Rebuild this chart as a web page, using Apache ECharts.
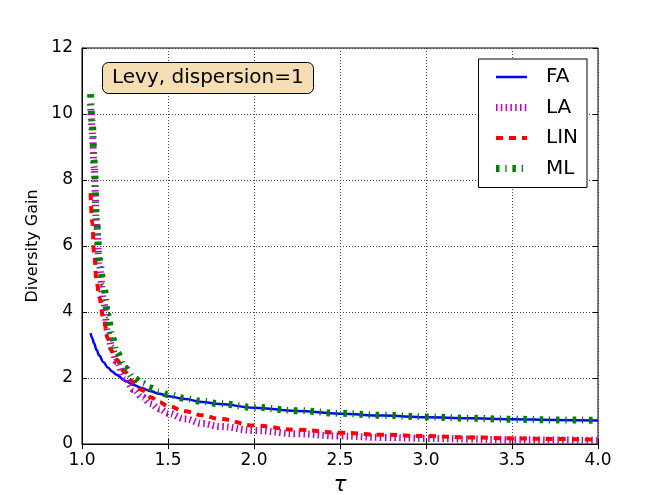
<!DOCTYPE html>
<html>
<head>
<meta charset="utf-8">
<script src="https://cdn.jsdelivr.net/npm/echarts@6/dist/echarts.min.js"></script>
<style>
    html, body { margin: 0; padding: 0; background: #fff; }
    #chart { width: 664px; height: 495px; }
</style>
</head>
<body>
<div id="chart"></div>
<script>
// tau samples and diversity gain
var tau = [1.05, 1.06, 1.07, 1.085, 1.1, 1.125, 1.15, 1.175, 1.2, 1.25, 1.3, 1.35, 1.4, 1.45, 1.5,
           1.6, 1.7, 1.8, 2.0, 2.25, 2.5, 2.75, 3.0, 3.25, 3.5, 3.75, 4.0];
var faGain  = [3.36, 3.2, 3.05, 2.85, 2.68, 2.48, 2.32, 2.2, 2.1, 1.92, 1.79, 1.69, 1.6, 1.52, 1.45,
               1.36, 1.27, 1.21, 1.1, 1.0, 0.92, 0.86, 0.81, 0.78, 0.75, 0.73, 0.71];
var laGain  = [10.3, 9.5, 8.4, 6.6, 5.4, 4.3, 3.4, 2.9, 2.5, 2.0, 1.65, 1.42, 1.22, 1.06, 0.93,
               0.76, 0.62, 0.53, 0.41, 0.31, 0.24, 0.2, 0.17, 0.15, 0.13, 0.12, 0.11];
var linGain = [7.6, 6.7, 5.8, 4.95, 4.45, 3.8, 3.2, 2.8, 2.55, 2.18, 1.88, 1.63, 1.42, 1.27, 1.15,
               0.99, 0.87, 0.76, 0.56, 0.43, 0.34, 0.28, 0.24, 0.2, 0.17, 0.15, 0.13];
var mlGain  = [10.6, 9.7, 8.6, 6.7, 5.6, 4.85, 3.9, 3.25, 2.8, 2.3, 2.0, 1.83, 1.7, 1.59, 1.5,
               1.38, 1.29, 1.22, 1.11, 1.01, 0.93, 0.87, 0.82, 0.78, 0.75, 0.73, 0.72];
var seriesNames = ['FA', 'LA', 'LIN', 'ML'];
var xTicks = [1.0, 1.5, 2.0, 2.5, 3.0, 3.5, 4.0];
var yTicks = [0, 2, 4, 6, 8, 10, 12];

function pairs(ys) {
    return tau.map(function (t, i) { return [t, ys[i]]; });
}

var font = 'DejaVu Sans';
var myChart = echarts.init(document.getElementById('chart'), null, { renderer: 'canvas' });

// line looks, shared by the plot and the legend
var styles = {
    FA:  { color: '#0000ff', width: 2.5, type: 'solid' },
    LA:  { color: '#bf00bf', width: 7, type: [1.5, 3.3], cap: 'butt' },
    LIN: { color: '#ff0000', width: 4, type: [7, 6], cap: 'butt' },
    ML:  { color: '#008000', width: 7, type: [3.5, 5.8, 1.3, 5.8], cap: 'butt' }
};

var tickOpts = { show: true, inside: true, length: 5, lineStyle: { color: '#000', width: 1 } };
var gridLine = { show: true, lineStyle: { color: '#444', width: 1, type: [1, 2] } };

var option = {
    animation: false,
    backgroundColor: '#fff',
    title: {
        text: 'Levy, dispersion=1',
        left: 102,
        top: 62,
        padding: [5, 10, 5, 10],
        backgroundColor: '#f5deb3',
        borderColor: '#000',
        borderWidth: 1,
        borderRadius: 6,
        textStyle: { fontFamily: font, fontSize: 20, fontWeight: 'normal', color: '#000', lineHeight: 22 }
    },
    legend: {
        data: seriesNames.map(function (n) {
            return { name: n, lineStyle: styles[n] };
        }),
        orient: 'vertical',
        right: 77,
        top: 59,
        padding: [8, 9, 9, 14],
        itemGap: 10.5,
        itemWidth: 31,
        itemHeight: 14,
        borderColor: '#000',
        borderWidth: 1,
        borderRadius: 0,
        backgroundColor: '#fff',
        itemStyle: { opacity: 0 },
        textStyle: { fontFamily: font, fontSize: 20, lineHeight: 20, color: '#000', padding: [0, 0, 0, 14] }
    },
    grid: {
        left: 82, right: 66, top: 48, bottom: 51,
        outerBoundsMode: 'none',
        show: true, borderColor: '#000', borderWidth: 1
    },
    xAxis: [{
        type: 'value',
        min: 1.0, max: 4.0, interval: 0.5,
        name: 'τ',
        nameLocation: 'middle',
        nameGap: 31,
        nameTextStyle: { fontFamily: font, fontSize: 21, fontStyle: 'italic', color: '#000' },
        axisLine: { show: true, lineStyle: { color: '#000', width: 1 } },
        axisTick: tickOpts,
        splitLine: gridLine,
        axisLabel: {
            fontFamily: font, fontSize: 17, color: '#000', margin: 8,
            formatter: function (v) { return xTicks.indexOf(v) >= 0 ? v.toFixed(1) : ''; }
        }
    }, {
        type: 'value', position: 'top',
        min: 1.0, max: 4.0, interval: 0.5,
        axisLine: { show: false },
        axisTick: tickOpts,
        splitLine: { show: false },
        axisLabel: { show: false }
    }],
    yAxis: [{
        type: 'value',
        min: 0, max: 12, interval: 2,
        name: 'Diversity Gain',
        nameLocation: 'middle',
        nameGap: 36,
        nameTextStyle: { fontFamily: font, fontSize: 16, color: '#000' },
        axisLine: { show: true, lineStyle: { color: '#000', width: 1 } },
        axisTick: tickOpts,
        splitLine: gridLine,
        axisLabel: {
            fontFamily: font, fontSize: 17, color: '#000', margin: 9,
            formatter: function (v) { return yTicks.indexOf(v) >= 0 ? String(v) : ''; }
        }
    }, {
        type: 'value', position: 'right',
        min: 0, max: 12, interval: 2,
        axisLine: { show: false },
        axisTick: tickOpts,
        splitLine: { show: false },
        axisLabel: { show: false }
    }],
    series: [
        { name: 'FA', data: pairs(faGain) },
        { name: 'LA', data: pairs(laGain) },
        { name: 'LIN', data: pairs(linGain) },
        { name: 'ML', data: pairs(mlGain) }
    ].map(function (s) {
        return {
            name: s.name, type: 'line', data: s.data,
            smooth: 0.4, smoothMonotone: 'x', showSymbol: false, symbol: 'none',
            color: styles[s.name].color,
            lineStyle: styles[s.name]
        };
    })
};

myChart.setOption(option);
</script>
</body>
</html>
